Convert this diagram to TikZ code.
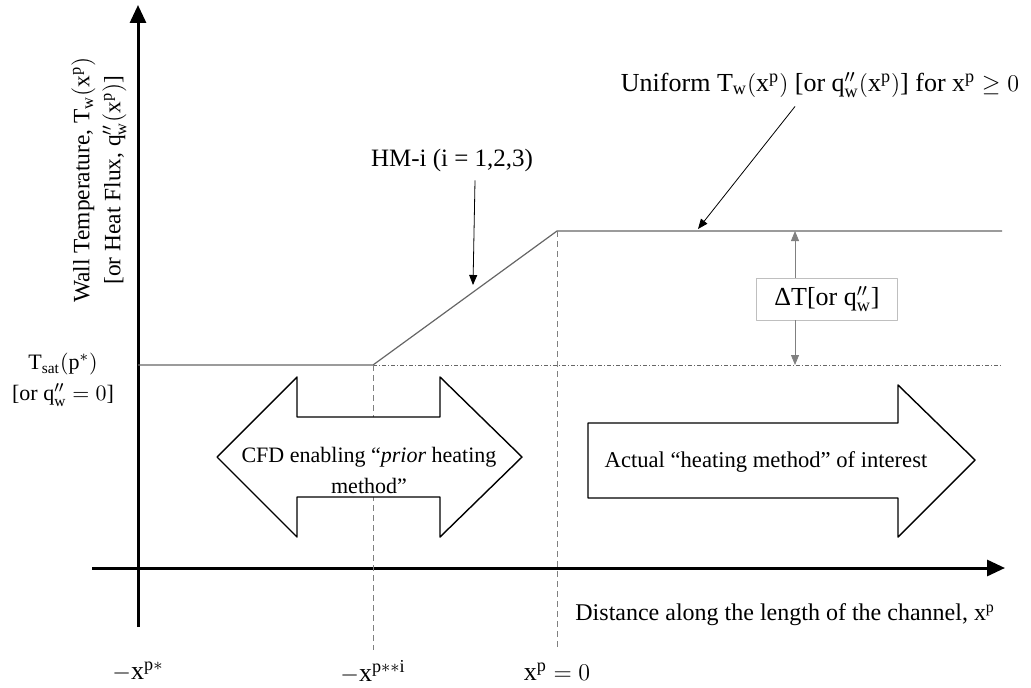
\documentclass[tikz,border=0pt]{standalone}
\usepackage{fontspec}
\setmainfont{Liberation Serif}
\usetikzlibrary{arrows.meta}

\begin{document}
\begin{tikzpicture}[x=.5pt, y=.5pt, font=\fontsize{11}{15.5}\selectfont, line join=round, >=stealth,
	axis/.style={line width=1.5pt, -{Triangle[width=8pt,length=9pt]}},
	guide/.style={gray, line width=.4pt, dash pattern=on 3pt off 2pt},
	level/.style={black!60, line width=.6pt},
	blockarrow/.style={draw=black, line width=.7pt, fill=white},
	pointer/.style={line width=.4pt, -{Triangle[width=4pt,length=5pt]}}]
	\useasboundingbox (0,0) rectangle (1031,687);
	\path
	(138,60) coordinate (Ybot)
	(138,682) coordinate (Ytip)
	(92,119) coordinate (Xbot)
	(1005,119) coordinate (Xtip)
	(138,322) coordinate (A)
	(373,322) coordinate (B)
	(557,456) coordinate (C)
	(1002,456) coordinate (D)
	(1002,322) coordinate (E)
	(373,37) coordinate (B0)
	(557,37) coordinate (C0)
	(795,456) coordinate (dTtop)
	(795,322) coordinate (dTbot)
	(473,402) coordinate (hmtip)
	(698,458) coordinate (uniftip)
	;
	% axes
	\draw[axis] (Ybot)--(Ytip);
	\draw[axis] (Xbot)--(Xtip);
	% wall profile
	\draw[level] (A)--(B)--(C)--(D);
	\draw[level, line width=.4pt, dash pattern=on 2pt off 1pt on .5pt off 1pt] (B)--(E);
	\draw[guide] (B)--(B0) (C)--(C0);
	% block arrows
	\draw[blockarrow] (217,230)--(297,310)--(297,270)--(440,270)--(440,310)--(522,230)
		--(440,150)--(440,190)--(297,190)--(297,150)--cycle;
	\draw[blockarrow] (588,264)--(898,264)--(898,302)--(975,227)--(898,150)--(898,189)--(588,189)--cycle;
	\node[align=center] (cfd) at (369,217) {CFD enabling “\textit{prior} heating\\method”};
	\node[font=\fontsize{11.3}{14}\selectfont] (actual) at (766,225) {Actual “heating method” of interest};
	% labels
	\node[rotate=90, align=center, font=\fontsize{11.7}{15.5}\selectfont] (ylab) at (99,507)
		{Wall Temperature, $\mathrm{T_w(x^p)}$\\{}[or Heat Flux, $\mathrm{q}''_{\mathrm{w}}\mathrm{(x^p)}$]};
	\node[align=center] (tsat) at (63,307) {$\mathrm{T_{sat}(p^{*})}$\\{}[or $\mathrm{q}''_{\mathrm{w}} = 0$]};
	\node[anchor=east, font=\fontsize{12}{14}\selectfont] (dist) at (1002,72) {Distance along the length of the channel, $\mathrm{x^p}$};
	\foreach \x/\t in {138/-\mathrm{x}^{\mathrm{p}*}, 373/-\mathrm{x}^{\mathrm{p}**\mathrm{i}}, 557/\mathrm{x^p} = 0}
	\node[font=\fontsize{13}{15}\selectfont] at (\x,15) {$\t$};
	\node[font=\fontsize{12.5}{15}\selectfont] (hm) at (452,527) {HM-i (i = 1,2,3)};
	\node[font=\fontsize{13}{15}\selectfont] (unif) at (820,602) {Uniform $\mathrm{T_w(x^p)}$ [or $\mathrm{q}''_{\mathrm{w}}\mathrm{(x^p)}$] for $\mathrm{x^p} \geq 0$};
	\draw[pointer] ([xshift=11.5pt,yshift=-1pt]hm.south)--(hmtip);
	\draw[pointer] ([xshift=-12.5pt,yshift=-1pt]unif.south)--(uniftip);
	% temperature rise
	\node[draw=black!25, fill=white, minimum width=70.5pt, minimum height=21pt, font=\fontsize{13}{15}\selectfont]
		(dT) at (827,388) {ΔT[or $\mathrm{q}''_{\mathrm{w}}$]};
	\draw[pointer, black!50] (dT.north -| dTtop)--(dTtop);
	\draw[pointer, black!50] (dT.south -| dTbot)--(dTbot);
\end{tikzpicture}
\end{document}
